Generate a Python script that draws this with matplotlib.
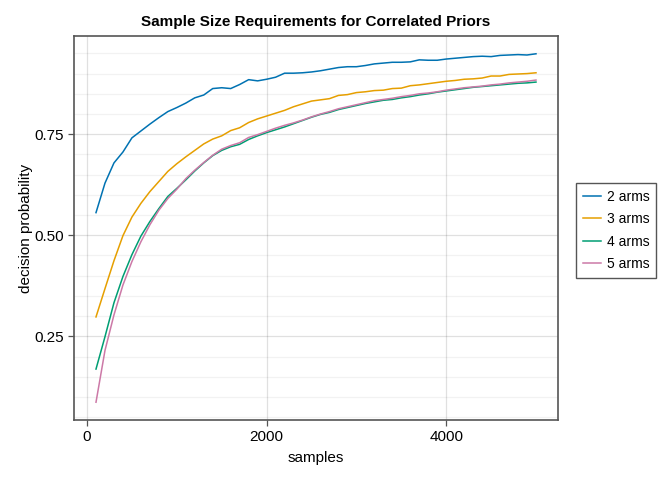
import numpy as np
from matplotlib import pyplot as plt
from matplotlib.ticker import MultipleLocator

plt.rcParams['font.family'] = ['Liberation Sans', 'DejaVu Sans']

samples = np.arange(100, 5001, 100)

arms2 = [0.556, 0.629, 0.679, 0.706, 0.741, 0.758, 0.775, 0.791, 0.806, 0.816,
         0.827, 0.840, 0.847, 0.863, 0.865, 0.863, 0.873, 0.885, 0.882, 0.886,
         0.891, 0.901, 0.901, 0.902, 0.904, 0.907, 0.911, 0.915, 0.917, 0.917,
         0.920, 0.924, 0.926, 0.928, 0.928, 0.929, 0.934, 0.933, 0.933, 0.936,
         0.938, 0.940, 0.942, 0.943, 0.942, 0.945, 0.946, 0.947, 0.946, 0.949]
arms3 = [0.298, 0.368, 0.437, 0.499, 0.545, 0.579, 0.608, 0.633, 0.658, 0.677,
         0.694, 0.710, 0.726, 0.738, 0.746, 0.759, 0.766, 0.779, 0.788, 0.795,
         0.802, 0.809, 0.818, 0.825, 0.832, 0.835, 0.838, 0.846, 0.848, 0.853,
         0.855, 0.858, 0.859, 0.863, 0.864, 0.870, 0.872, 0.875, 0.878, 0.881,
         0.883, 0.886, 0.887, 0.889, 0.894, 0.894, 0.898, 0.899, 0.900, 0.902]
arms4 = [0.169, 0.249, 0.333, 0.398, 0.452, 0.498, 0.534, 0.566, 0.596, 0.616,
         0.637, 0.659, 0.679, 0.697, 0.710, 0.719, 0.725, 0.737, 0.746, 0.754,
         0.761, 0.768, 0.776, 0.784, 0.792, 0.799, 0.804, 0.811, 0.816, 0.821,
         0.826, 0.830, 0.834, 0.836, 0.840, 0.843, 0.847, 0.850, 0.854, 0.857,
         0.860, 0.863, 0.866, 0.868, 0.870, 0.872, 0.874, 0.876, 0.877, 0.879]
arms5 = [0.087, 0.215, 0.303, 0.377, 0.435, 0.484, 0.526, 0.562, 0.591, 0.614,
         0.640, 0.661, 0.680, 0.698, 0.713, 0.722, 0.729, 0.742, 0.749, 0.757,
         0.765, 0.772, 0.778, 0.785, 0.793, 0.800, 0.806, 0.813, 0.818, 0.823,
         0.828, 0.833, 0.836, 0.839, 0.843, 0.846, 0.850, 0.852, 0.855, 0.859,
         0.862, 0.865, 0.867, 0.869, 0.872, 0.874, 0.877, 0.879, 0.881, 0.884]

series = [arms2, arms3, arms4, arms5]
labels = ["2 arms", "3 arms", "4 arms", "5 arms"]
colors = ["#0072B2", "#E69F00", "#009E73", "#CC79A7"]

fig = plt.figure(figsize=(6.72, 4.8), dpi=100)
ax = fig.add_axes([74/672, 60/480, 484/672, 384/480])

for ys, lab, c in zip(series, labels, colors):
    ax.plot(samples, ys, color=c, lw=1.1, label=lab)

ax.set_xlim(-145, 5245)
ax.set_ylim(0.043, 0.993)
ax.set_xticks([0, 2000, 4000])
ax.set_yticks([0.25, 0.50, 0.75])
ax.set_yticklabels(["0.25", "0.50", "0.75"])
ax.yaxis.set_minor_locator(MultipleLocator(0.05))

ax.grid(True, which='major', color='black', alpha=0.12, lw=0.9)
ax.grid(True, which='minor', axis='y', color='black', alpha=0.05, lw=0.9)
ax.set_axisbelow(True)
ax.tick_params(which='minor', length=0)
ax.tick_params(which='major', length=4, width=0.9, color='#555555', labelsize=11, pad=3)
for s in ax.spines.values():
    s.set_color('#555555')
    s.set_linewidth(1.2)

ax.set_xlabel("samples", fontsize=11, labelpad=5)
ax.set_ylabel("decision probability", fontsize=11, labelpad=1)
ax.set_title("Sample Size Requirements for Correlated Priors", fontsize=11,
             fontweight='bold', pad=7)

fig.legend(loc='center left', bbox_to_anchor=(576/672, 1 - 230.5/480),
           fancybox=False, edgecolor='#555555', fontsize=10, handlelength=1.3,
           handletextpad=0.4, borderpad=0.5, labelspacing=0.6, framealpha=1,
           borderaxespad=0)

fig.savefig("out.png", dpi=100)
